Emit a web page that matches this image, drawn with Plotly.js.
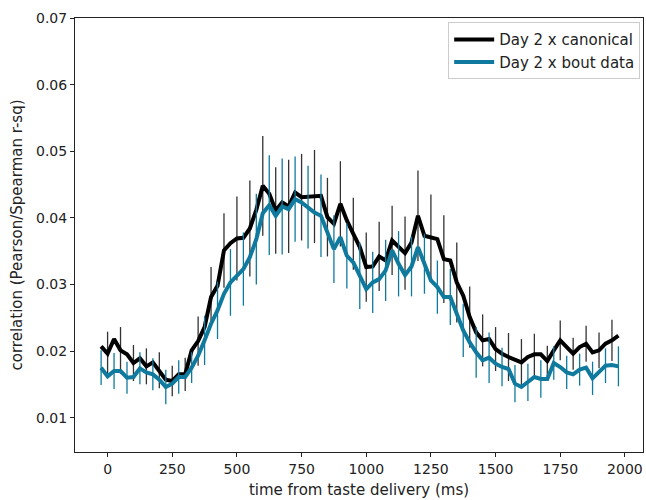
<!DOCTYPE html>
<html>
<head>
<meta charset="utf-8">
<script src="https://cdn.plot.ly/plotly-3.0.1.min.js"></script>
<style>html,body{margin:0;padding:0;background:#fff;}#chart{width:646px;height:500px;}</style>
</head>
<body>
<div id="chart"></div>
<script>
// time points (ms)
const timeMs = [-25,0,25,50,75,100,125,150,175,200,225,250,275,300,325,350,375,400,425,450,475,500,525,550,575,600,625,650,675,700,725,750,775,800,825,850,875,900,925,950,975,1000,1025,1050,1075,1100,1125,1150,1175,1200,1225,1250,1275,1300,1325,1350,1375,1400,1425,1450,1475,1500,1525,1550,1575,1600,1625,1650,1675,1700,1725,1750,1775,1800,1825,1850,1875,1900,1925,1950,1975];

// Day 2 x canonical
const canonical = [0.0207,0.0196,0.0218,0.0201,0.0195,0.0182,0.0189,0.0177,0.0183,0.0171,0.0157,0.0155,0.0165,0.0165,0.0201,0.0215,0.0236,0.0281,0.0298,0.0351,0.0362,0.0369,0.0370,0.0384,0.0412,0.0448,0.0436,0.0411,0.0423,0.0417,0.0438,0.0431,0.0432,0.0432,0.0433,0.0401,0.0391,0.0421,0.0396,0.0376,0.0356,0.0326,0.0327,0.0342,0.0336,0.0366,0.0357,0.0347,0.0363,0.0403,0.0373,0.0371,0.0368,0.0338,0.0336,0.0303,0.0283,0.0251,0.0228,0.0216,0.0218,0.0203,0.0196,0.0191,0.0187,0.0183,0.0191,0.0195,0.0195,0.0185,0.0201,0.0216,0.0206,0.0196,0.0206,0.0211,0.0198,0.0201,0.0211,0.0216,0.0223];

// Day 2 x bout data
const bout = [0.0175,0.0162,0.0170,0.0170,0.0160,0.0161,0.0174,0.0168,0.0165,0.0157,0.0146,0.0151,0.0161,0.0161,0.0175,0.0193,0.0216,0.0241,0.0261,0.0286,0.0303,0.0313,0.0323,0.0341,0.0368,0.0407,0.0419,0.0403,0.0417,0.0413,0.0428,0.0423,0.0416,0.0408,0.0403,0.0376,0.0353,0.0371,0.0343,0.0333,0.0313,0.0293,0.0303,0.0308,0.0321,0.0351,0.0331,0.0314,0.0327,0.0356,0.0331,0.0306,0.0296,0.0281,0.0281,0.0256,0.0231,0.0213,0.0198,0.0186,0.0190,0.0181,0.0176,0.0173,0.0151,0.0146,0.0153,0.0161,0.0158,0.0158,0.0182,0.0176,0.0168,0.0165,0.0172,0.0175,0.0159,0.0168,0.0178,0.0179,0.0177];

// error half-widths, shown on every other point
// canonical: at 0, 50, 100, ... 1950
const canonicalErr = [0.0033,0.0035,0.0027,0.0027,0.0027,0.0023,0.0025,0.0037,0.0045,0.0056,0.0063,0.0072,0.0075,0.0065,0.0070,0.0065,0.0070,0.0059,0.0064,0.0054,0.0052,0.0052,0.0052,0.0055,0.0068,0.0064,0.0066,0.0060,0.0046,0.0039,0.0033,0.0036,0.0035,0.0031,0.0023,0.0030,0.0024,0.0027,0.0027,0.0031];
// bout: at -25, 25, 75, ... 1975
const boutErr = [0.0026,0.0027,0.0024,0.0024,0.0024,0.0026,0.0025,0.0023,0.0037,0.0043,0.0050,0.0055,0.0068,0.0075,0.0072,0.0064,0.0062,0.0062,0.0051,0.0049,0.0050,0.0046,0.0046,0.0049,0.0045,0.0045,0.0040,0.0042,0.0040,0.0038,0.0038,0.0029,0.0028,0.0028,0.0028,0.0025,0.0025,0.0024,0.0025,0.0026,0.0030];

const xTicks = [0,250,500,750,1000,1250,1500,1750,2000];
const yTicks = [0.01,0.02,0.03,0.04,0.05,0.06,0.07];

const BLUE = '#0f7a9e';

function pick(arr, parity){ return arr.filter((v,i)=> i%2===parity); }

const traces = [
  { x: pick(timeMs,1), y: pick(canonical,1), mode:'markers', marker:{size:0.1,color:'rgba(0,0,0,0)'},
    error_y:{type:'data', array: canonicalErr, visible:true, color:'#333333', thickness:1.3, width:0},
    showlegend:false, hoverinfo:'skip' },
  { x: timeMs, y: canonical, mode:'lines', name:'Day 2 x canonical',
    line:{color:'#000000', width:4} },
  { x: pick(timeMs,0), y: pick(bout,0), mode:'markers', marker:{size:0.1,color:'rgba(0,0,0,0)'},
    error_y:{type:'data', array: boutErr, visible:true, color:BLUE, thickness:1.3, width:0},
    showlegend:false, hoverinfo:'skip' },
  { x: timeMs, y: bout, mode:'lines', name:'Day 2 x bout data',
    line:{color:BLUE, width:4} }
];

const axisCommon = {
  showgrid:false, zeroline:false, showline:true, mirror:true,
  linecolor:'#222', linewidth:1, ticks:'outside', ticklen:4, tickwidth:1, tickcolor:'#222',
  tickfont:{family:'DejaVu Sans', size:14, color:'#222'}
};

const layout = {
  width:646, height:500,
  margin:{l:75, r:3, t:18, b:48},
  paper_bgcolor:'#fff', plot_bgcolor:'#fff',
  font:{family:'DejaVu Sans', size:15, color:'#222'},
  xaxis: Object.assign({}, axisCommon, {
    range:[-126, 2070], tickvals:xTicks, ticktext:xTicks.map(String),
    title:{text:'time from taste delivery (ms)', font:{family:'DejaVu Sans', size:15, color:'#222'}, standoff:8}
  }),
  yaxis: Object.assign({}, axisCommon, {
    range:[0.00484, 0.0700], tickvals:yTicks, ticktext:yTicks.map(v=>v.toFixed(2)),
    title:{text:'correlation (Pearson/Spearman r-sq)', font:{family:'DejaVu Sans', size:15, color:'#222'}, standoff:9}
  }),
  legend:{x:0.995, y:0.99, xanchor:'right', yanchor:'top', bgcolor:'rgba(255,255,255,0.8)',
    bordercolor:'#cccccc', borderwidth:1, font:{family:'DejaVu Sans', size:15, color:'#222'},
    tracegroupgap:0, itemwidth:40}
};

Plotly.newPlot('chart', traces, layout, {displayModeBar:false, staticPlot:true});
</script>
</body>
</html>
